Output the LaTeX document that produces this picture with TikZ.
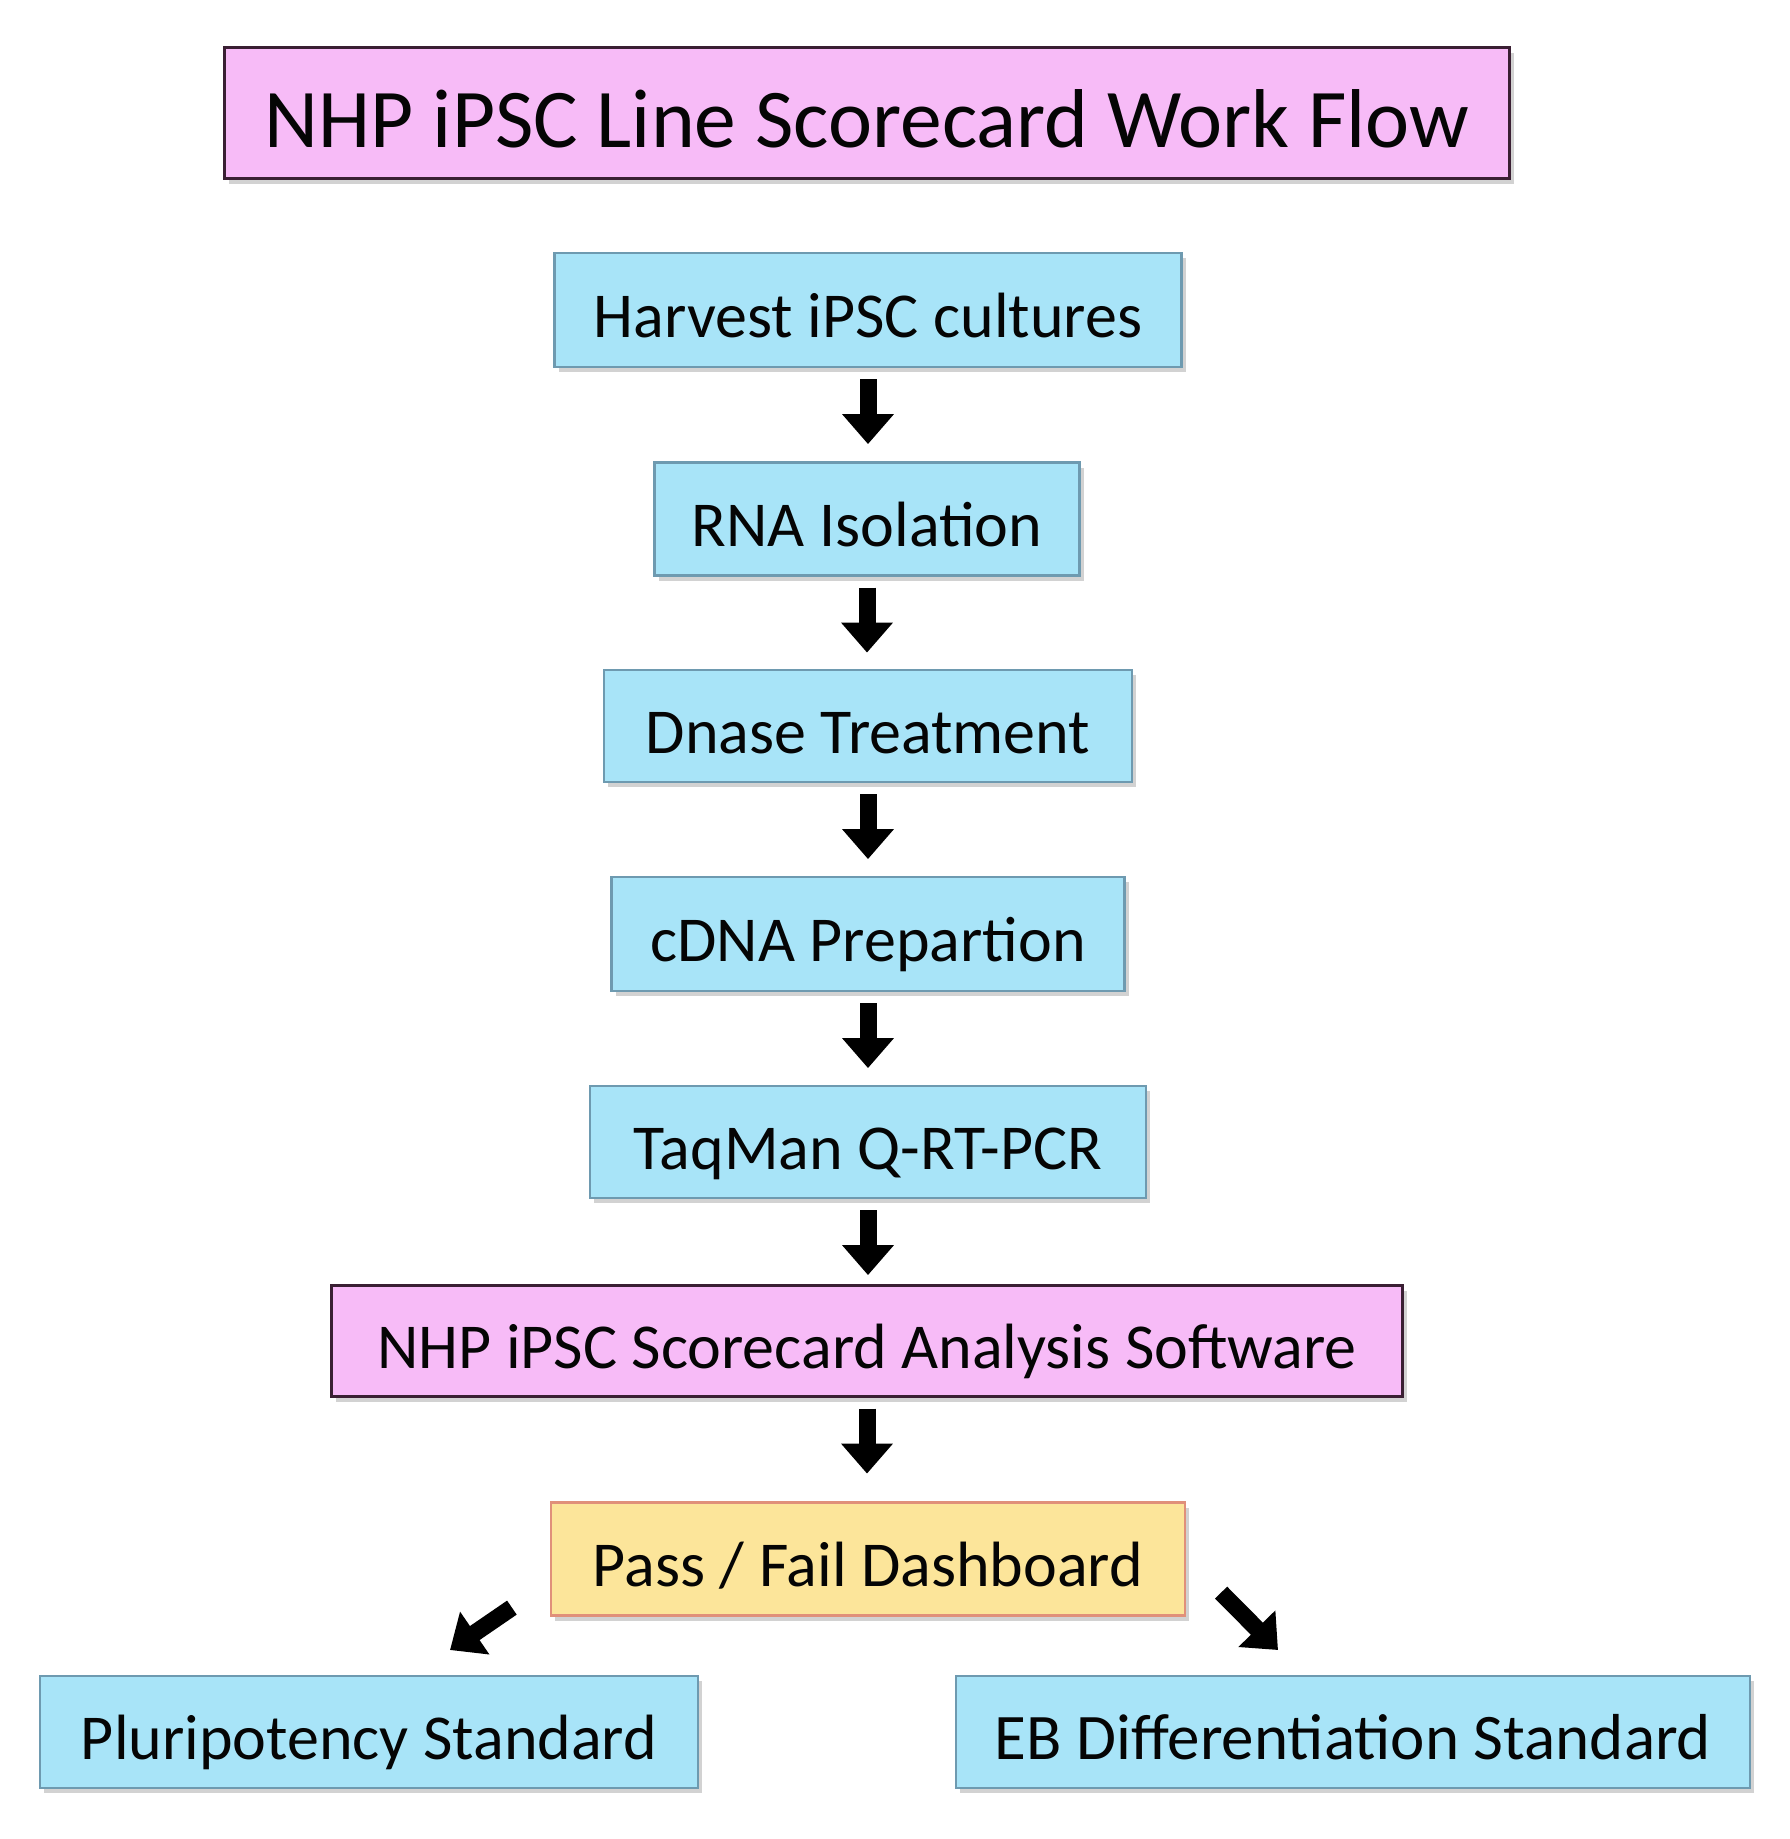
\documentclass[tikz,border=0pt]{standalone}
\usepackage{fontspec}
\setmainfont{Carlito}
\usetikzlibrary{arrows.meta,shadows}
\definecolor{pinkfill}{HTML}{F7BBF7}
\definecolor{pinkdraw}{HTML}{3A1F33}
\definecolor{cyanfill}{HTML}{A8E4F8}
\definecolor{cyandraw}{HTML}{6E9AB0}
\definecolor{yelfill}{HTML}{FCE59A}
\definecolor{yeldraw}{HTML}{E0907A}
\definecolor{txt}{HTML}{050505}
\tikzset{
  box/.style={rectangle, inner sep=0pt, line width=2.2pt, text=txt,
    text height=54pt, text depth=0pt, font=\fontsize{64}{72}\selectfont,
    drop shadow={opacity=0.35, shadow xshift=4pt, shadow yshift=-5pt}},
  pinkbox/.style={box, fill=pinkfill, draw=pinkdraw},
  cyanbox/.style={box, fill=cyanfill, draw=cyandraw},
  yelbox/.style={box, fill=yelfill, draw=yeldraw},
  blockarrow/.style={line width=17pt, black, -{Triangle[length=30pt,width=50pt]}},
}
\begin{document}
\begin{tikzpicture}[x=1pt,y=-1pt]
\path[use as bounding box, fill=white] (0,0) rectangle (1790,1839);
\node[pinkbox, minimum width=1285pt, minimum height=131pt, text height=68pt, font=\fontsize{83.5}{90}\selectfont] (title) at (867,113) {NHP iPSC Line Scorecard Work Flow};
\node[cyanbox, minimum width=627pt, minimum height=114pt] (harvest) at (868,310) {Harvest iPSC cultures};
\node[cyanbox, minimum width=425pt, minimum height=113pt] (rna) at (867,519) {RNA Isolation};
\node[cyanbox, minimum width=528pt, minimum height=112pt] (dnase) at (868,726) {Dnase Treatment};
\node[cyanbox, minimum width=513pt, minimum height=114pt] (cdna) at (868,934) {cDNA Prepartion};
\node[cyanbox, minimum width=556pt, minimum height=112pt] (taqman) at (868,1142) {TaqMan Q-RT-PCR};
\node[pinkbox, minimum width=1071pt, minimum height=111pt] (soft) at (867,1341) {NHP iPSC Scorecard Analysis Software};
\node[yelbox, minimum width=634pt, minimum height=113pt] (pass) at (868,1559) {Pass / Fail Dashboard};
\node[cyanbox, minimum width=658pt, minimum height=112pt] (pluri) at (369,1732) {Pluripotency Standard};
\node[cyanbox, minimum width=794pt, minimum height=112pt, font=\fontsize{65}{72}\selectfont] (eb) at (1353,1732) {EB Differentiation Standard};
\foreach \a/\b in {harvest/rna, rna/dnase, dnase/cdna, cdna/taqman, taqman/soft, soft/pass}{
  \draw[blockarrow] ([yshift=-11pt]\a.south) -- ([yshift=-76pt]\a.south);
}
\coordinate (lt) at (450,1650);
\coordinate (rt) at (1278,1650);
\draw[blockarrow] ([xshift=-38pt,yshift=9pt]pass.south west) -- (lt);
\draw[blockarrow] ([xshift=35pt,yshift=24pt]pass.south east) -- (rt);
\end{tikzpicture}
\end{document}
